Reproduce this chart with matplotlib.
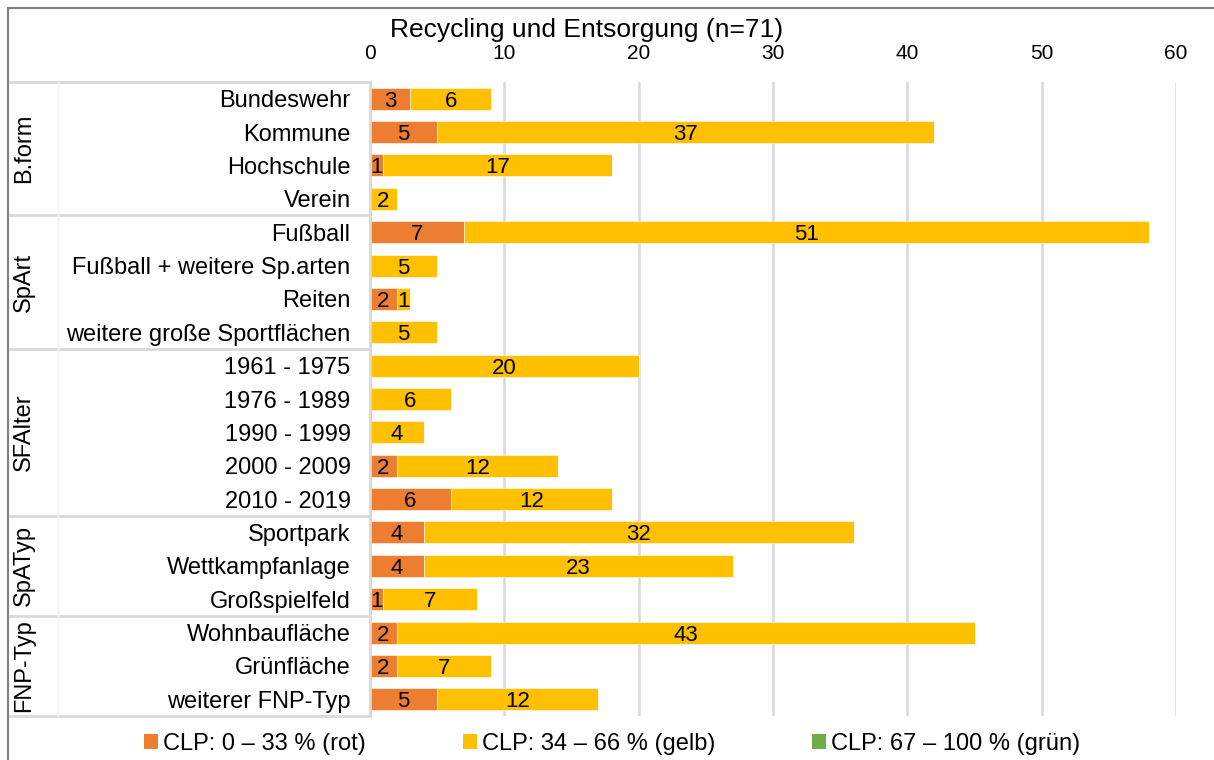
import matplotlib
matplotlib.use("Agg")
import matplotlib.pyplot as plt
from matplotlib.lines import Line2D
from matplotlib.patches import Patch
import matplotlib.transforms as mtransforms
import numpy as np

plt.rcParams["font.family"] = ["Liberation Sans", "DejaVu Sans"]

kategorien = ["Bundeswehr", "Kommune", "Hochschule", "Verein",
              "Fußball", "Fußball + weitere Sp.arten", "Reiten", "weitere große Sportflächen",
              "1961 - 1975", "1976 - 1989", "1990 - 1999", "2000 - 2009", "2010 - 2019",
              "Sportpark", "Wettkampfanlage", "Großspielfeld",
              "Wohnbaufläche", "Grünfläche", "weiterer FNP-Typ"]
gruppen = ["B.form", "SpArt", "SFAlter", "SpATyp", "FNP-Typ"]
gruppen_groesse = [4, 4, 5, 3, 3]

rot = [3, 5, 1, 0, 7, 0, 2, 0, 0, 0, 0, 2, 6, 4, 4, 1, 2, 2, 5]
gelb = [6, 37, 17, 2, 51, 5, 1, 5, 20, 6, 4, 12, 12, 32, 23, 7, 43, 7, 12]
gruen = [0] * 19

legende = ["CLP: 0 – 33 % (rot)", "CLP: 34 – 66 % (gelb)", "CLP: 67 – 100 % (grün)"]
farben = ["#ED7D31", "#FFC000", "#70AD47"]

W, H = 1214, 760
fig = plt.figure(figsize=(W / 100, H / 100), dpi=100)
ax = fig.add_axes([370 / W, 1 - 716 / H, (1176 - 370) / W, (716 - 82) / H])

y = np.arange(len(kategorien))
links = np.zeros(len(kategorien))
for werte, farbe in zip([rot, gelb, gruen], farben):
    werte = np.array(werte)
    bars = ax.barh(y, werte, left=links, height=0.66, color=farbe,
                   edgecolor="white", linewidth=0.4)
    for b, v in zip(bars, werte):
        if v > 0:
            ax.text(b.get_x() + b.get_width() / 2, b.get_y() + b.get_height() / 2,
                    str(v), ha="center", va="center_baseline", fontsize=16)
    links += werte

ax.set_xlim(0, 60)
ax.set_ylim(len(kategorien) - 0.5, -0.5)
ax.set_xticks(range(0, 61, 10))
ax.xaxis.tick_top()
ax.tick_params(axis="x", length=0, labelsize=15, pad=14)
ax.set_yticks(y)
ax.set_yticklabels(kategorien, fontsize=17)
ax.tick_params(axis="y", length=0, pad=14)
ax.grid(axis="x", color="#D9D9D9", linewidth=1.8)
ax.set_axisbelow(True)
for s in ax.spines.values():
    s.set_visible(False)

# Tabellenlinien links
trans = mtransforms.blended_transform_factory(fig.transFigure, ax.transData)
grenzen = np.concatenate([[0], np.cumsum(gruppen_groesse)]) - 0.5
for g in grenzen:
    fig.add_artist(Line2D([10 / W, 370 / W], [g, g], transform=trans,
                          color="#D9D9D9", linewidth=2))
fig.add_artist(Line2D([370 / W, 370 / W], [grenzen[0], grenzen[-1]], transform=trans,
                      color="#D9D9D9", linewidth=2))
fig.add_artist(Line2D([58 / W, 58 / W], [grenzen[0], grenzen[-1]], transform=trans,
                      color="#F4F4F4", linewidth=1))
for name, a, b in zip(gruppen, grenzen[:-1], grenzen[1:]):
    fig.text(24 / W, (a + b) / 2, name, transform=trans, rotation=90,
             ha="center", va="center", fontsize=17)

# Rahmen
fig.add_artist(Line2D([8 / W, 8 / W], [0, 1 - 8 / H], color="#7F7F7F", linewidth=1.5))
fig.add_artist(Line2D([8 / W, 1], [1 - 8 / H, 1 - 8 / H], color="#7F7F7F", linewidth=1.5))

fig.text(587 / W, 1 - 30 / H, "Recycling und Entsorgung (n=71)",
         ha="center", va="center", fontsize=19)

handles = [Patch(facecolor=f, edgecolor="none") for f in farben]
fig.legend(handles, legende, loc="center", bbox_to_anchor=(612 / W, 16 / H),
           ncol=3, frameon=False, fontsize=17, handlelength=0.6, handleheight=0.6,
           handletextpad=0.2, columnspacing=4.1, borderaxespad=0)

fig.savefig("out.png", dpi=100)
